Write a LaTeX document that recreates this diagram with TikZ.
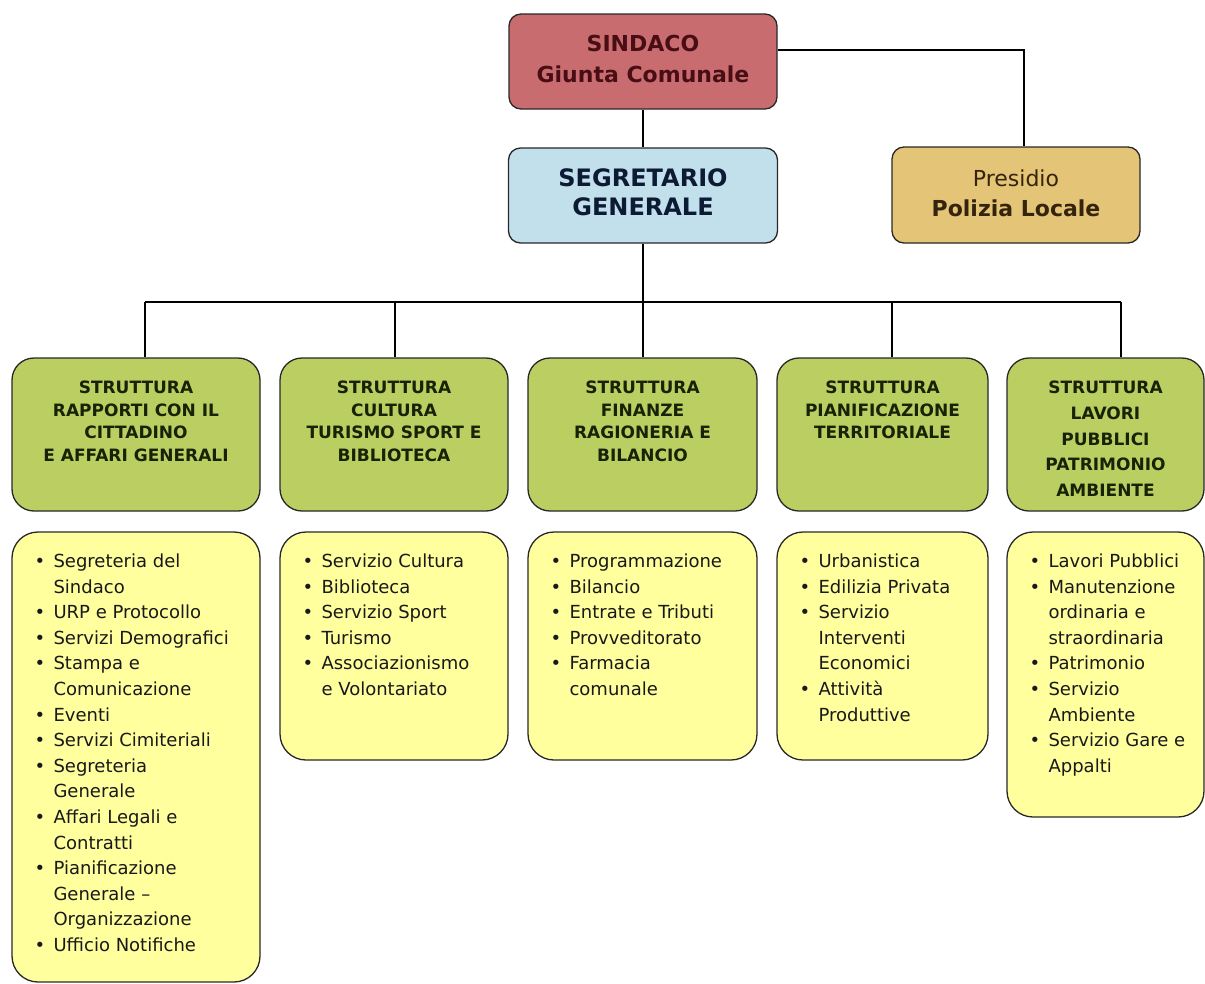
\documentclass[tikz,border=0pt]{standalone}
\usepackage{fontspec}
\setmainfont{DejaVu Sans}
\definecolor{sindfill}{RGB}{200,108,112}
\definecolor{sindtext}{RGB}{72,14,20}
\definecolor{segfill}{RGB}{194,223,236}
\definecolor{segtext}{RGB}{12,26,52}
\definecolor{polfill}{RGB}{228,196,118}
\definecolor{poltext}{RGB}{52,36,12}
\definecolor{greenfill}{RGB}{186,206,98}
\definecolor{greentext}{RGB}{24,34,4}
\definecolor{yelfill}{RGB}{255,255,158}
\definecolor{edgecol}{RGB}{40,40,40}
\newcommand\bul{\makebox[19pt][l]{•}}
\newcommand\cont{\hspace*{19pt}}
\newcommand\mystrut[1]{\vrule height#1pt width0pt\relax}
\begin{document}
\begin{tikzpicture}[x=1pt,y=-1pt,
  topbox/.style={draw=edgecol, line width=1.3pt, rounded corners=12pt, inner sep=0pt},
  toptext/.style={inner sep=0pt, align=center},
  grbox/.style={draw=edgecol, line width=1.3pt, fill=greenfill, rounded corners=22pt, inner sep=0pt},
  yelbox/.style={draw=edgecol, line width=1.3pt, fill=yelfill, rounded corners=26pt, inner sep=0pt},
  grtitle/.style={anchor=north, inner sep=0pt, align=center, text=greentext, font=\fontsize{17}{22.7}\selectfont\bfseries},
  listtxt/.style={anchor=north west, inner sep=0pt, align=left, text=black!90, font=\fontsize{18}{25.6}\selectfont},
  conn/.style={draw=black, line width=1.3pt}
]
\useasboundingbox (0,0) rectangle (1205,983);
\fill[white] (0,0) rectangle (1205,983);

% top level
\node[topbox, fill=sindfill, minimum width=268, minimum height=95] (sind) at (643,61.5) {};
\node[toptext, text=sindtext, font=\fontsize{22}{31}\selectfont\bfseries] (sindt) at ([yshift=3pt]sind.center) {SINDACO\\Giunta Comunale};
\node[topbox, fill=segfill, minimum width=269, minimum height=95] (segr) at (643,195.5) {};
\node[toptext, text=segtext, font=\fontsize{24}{29}\selectfont\bfseries] (segrt) at ([yshift=3pt]segr.center) {SEGRETARIO\\GENERALE};
\node[topbox, fill=polfill, minimum width=248, minimum height=96] (pol) at (1016,195) {};
\node[toptext, text=poltext, font=\fontsize{22}{30}\selectfont] (polt) at ([yshift=2pt]pol.center) {Presidio\\\textbf{Polizia Locale}};

% green structure boxes
\node[grbox, minimum width=248, minimum height=153] (g1) at (136,434.5) {};
\node[grbox, minimum width=228, minimum height=153] (g2) at (394,434.5) {};
\node[grbox, minimum width=229, minimum height=153] (g3) at (642.5,434.5) {};
\node[grbox, minimum width=211, minimum height=153] (g4) at (882.5,434.5) {};
\node[grbox, minimum width=197, minimum height=153] (g5) at (1105.5,434.5) {};

\node[grtitle] (t1) at ([yshift=-23pt]g1.north) {\mystrut{13}STRUTTURA\\RAPPORTI CON IL\\CITTADINO\\E AFFARI GENERALI};
\node[grtitle] (t2) at ([yshift=-23pt]g2.north) {\mystrut{13}STRUTTURA\\CULTURA\\TURISMO SPORT E\\BIBLIOTECA};
\node[grtitle] (t3) at ([yshift=-23pt]g3.north) {\mystrut{13}STRUTTURA\\FINANZE\\RAGIONERIA E\\BILANCIO};
\node[grtitle] (t4) at ([yshift=-23pt]g4.north) {\mystrut{13}STRUTTURA\\PIANIFICAZIONE\\TERRITORIALE};
\node[grtitle, font=\fontsize{17}{25.8}\selectfont\bfseries] (t5) at ([yshift=-23pt]g5.north) {\mystrut{13}STRUTTURA\\LAVORI\\PUBBLICI\\PATRIMONIO\\AMBIENTE};

% yellow list boxes
\node[yelbox, minimum width=248, minimum height=450] (y1) at (136,757) {};
\node[yelbox, minimum width=228, minimum height=228] (y2) at (394,646) {};
\node[yelbox, minimum width=229, minimum height=228] (y3) at (642.5,646) {};
\node[yelbox, minimum width=211, minimum height=228] (y4) at (882.5,646) {};
\node[yelbox, minimum width=197, minimum height=285] (y5) at (1105.5,674.5) {};

\node[listtxt] (l1) at ([xshift=23pt,yshift=-16pt]y1.north west) {\mystrut{20}\bul Segreteria del\\\cont Sindaco\\\bul URP e Protocollo\\\bul Servizi Demografici\\\bul Stampa e\\\cont Comunicazione\\\bul Eventi\\\bul Servizi Cimiteriali\\\bul Segreteria\\\cont Generale\\\bul Affari Legali e\\\cont Contratti\\\bul Pianificazione\\\cont Generale –\\\cont Organizzazione\\\bul Ufficio Notifiche};
\node[listtxt] (l2) at ([xshift=23pt,yshift=-16pt]y2.north west) {\mystrut{20}\bul Servizio Cultura\\\bul Biblioteca\\\bul Servizio Sport\\\bul Turismo\\\bul Associazionismo\\\cont e Volontariato};
\node[listtxt] (l3) at ([xshift=23pt,yshift=-16pt]y3.north west) {\mystrut{20}\bul Programmazione\\\bul Bilancio\\\bul Entrate e Tributi\\\bul Provveditorato\\\bul Farmacia\\\cont comunale};
\node[listtxt] (l4) at ([xshift=23pt,yshift=-16pt]y4.north west) {\mystrut{20}\bul Urbanistica\\\bul Edilizia Privata\\\bul Servizio\\\cont Interventi\\\cont Economici\\\bul Attività\\\cont Produttive};
\node[listtxt] (l5) at ([xshift=23pt,yshift=-16pt]y5.north west) {\mystrut{20}\bul Lavori Pubblici\\\bul Manutenzione\\\cont ordinaria e\\\cont straordinaria\\\bul Patrimonio\\\bul Servizio\\\cont Ambiente\\\bul Servizio Gare e\\\cont Appalti};

% connectors
\draw[conn] (sind.south) -- (segr.north);
\coordinate (pj) at ([xshift=8pt]pol.north);
\draw[conn] ([yshift=11.5pt]sind.east) -| (pj);
\coordinate (d1) at (145,302);
\coordinate (d2) at (395,302);
\coordinate (d3) at (643,302);
\coordinate (d4) at (892,302);
\coordinate (d5) at (1121,302);
\draw[conn] (segr.south) -- (d3);
\draw[conn] (d1) -- (d5);
\draw[conn] (d1) -- (d1 |- g1.north);
\draw[conn] (d2) -- (d2 |- g2.north);
\draw[conn] (d3) -- (d3 |- g3.north);
\draw[conn] (d4) -- (d4 |- g4.north);
\draw[conn] (d5) -- (d5 |- g5.north);
\end{tikzpicture}
\end{document}
